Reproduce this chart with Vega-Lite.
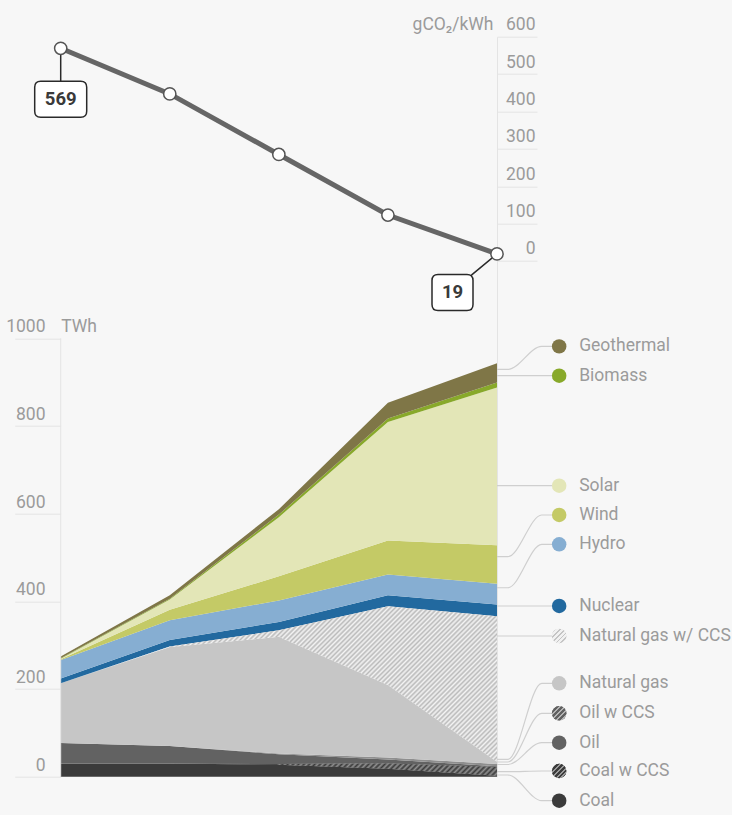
{
  "$schema": "https://vega.github.io/schema/vega-lite/v6.json",
  "width": 436.3,
  "height": 740,
  "autosize": {"type": "none"},
  "padding": {"left": 60.7, "top": 36.7, "right": 235, "bottom": 38.3},
  "background": "#f7f7f7",
  "config": {
    "view": {"stroke": null},
    "font": "Roboto",
    "text": {"font": "Roboto"}
  },
  "datasets": {
    "mix": [
      {"year": 2010, "Coal": 30, "Coal w CCS": 0, "Oil": 47, "Oil w CCS": 0, "Natural gas": 136, "Natural gas w/ CCS": 0, "Nuclear": 11, "Hydro": 42, "Wind": 2, "Solar": 1, "Biomass": 1, "Geothermal": 4},
      {"year": 2020, "Coal": 30, "Coal w CCS": 0, "Oil": 40, "Oil w CCS": 0, "Natural gas": 226, "Natural gas w/ CCS": 1, "Nuclear": 15, "Hydro": 45, "Wind": 24, "Solar": 23, "Biomass": 2, "Geothermal": 8},
      {"year": 2030, "Coal": 27, "Coal w CCS": 2, "Oil": 22, "Oil w CCS": 2, "Natural gas": 266, "Natural gas w/ CCS": 15, "Nuclear": 19, "Hydro": 49, "Wind": 55, "Solar": 135, "Biomass": 6, "Geothermal": 12},
      {"year": 2040, "Coal": 18, "Coal w CCS": 12, "Oil": 9, "Oil w CCS": 5, "Natural gas": 165, "Natural gas w/ CCS": 180, "Nuclear": 25, "Hydro": 47, "Wind": 78, "Solar": 270, "Biomass": 8, "Geothermal": 36},
      {"year": 2050, "Coal": 2, "Coal w CCS": 20, "Oil": 2, "Oil w CCS": 5, "Natural gas": 5, "Natural gas w/ CCS": 332, "Nuclear": 27, "Hydro": 47, "Wind": 88, "Solar": 360, "Biomass": 11, "Geothermal": 44}
    ],
    "co2": [
      {"year": 2010, "g": 569},
      {"year": 2020, "g": 447},
      {"year": 2030, "g": 285},
      {"year": 2040, "g": 123},
      {"year": 2050, "g": 19}
    ],
    "labels": [
      {"source": "Geothermal", "ly": 981.6, "ay": 929},
      {"source": "Biomass", "ly": 914.7, "ay": 914.7},
      {"source": "Solar", "ly": 663.8, "ay": 663.8},
      {"source": "Wind", "ly": 597, "ay": 502},
      {"source": "Hydro", "ly": 530, "ay": 431},
      {"source": "Nuclear", "ly": 389.4, "ay": 389.4},
      {"source": "Natural gas w/ CCS", "ly": 321, "ay": 321},
      {"source": "Natural gas", "ly": 213, "ay": 39.7},
      {"source": "Oil w CCS", "ly": 144.6, "ay": 33.5},
      {"source": "Oil", "ly": 77.6, "ay": 27.8},
      {"source": "Coal w CCS", "ly": 13, "ay": 11.4},
      {"source": "Coal", "ly": -54.7, "ay": 3.9}
    ]
  },
  "layer": [
    {
      "layer": [
        {
          "data": {"name": "mix"},
          "transform": [
            {"fold": ["Coal", "Coal w CCS", "Oil", "Oil w CCS", "Natural gas", "Natural gas w/ CCS", "Nuclear", "Hydro", "Wind", "Solar", "Biomass", "Geothermal"], "as": ["source", "twh"]},
            {"calculate": "indexof(['Coal','Coal w CCS','Oil','Oil w CCS','Natural gas','Natural gas w/ CCS','Nuclear','Hydro','Wind','Solar','Biomass','Geothermal'], datum.source)", "as": "rank"},
            {"stack": "twh", "groupby": ["year"], "sort": [{"field": "rank", "order": "ascending"}], "as": ["s0", "s1"]}
          ],
          "layer": [
            {
              "mark": {"type": "area", "interpolate": "linear"},
              "encoding": {
                "x": {
                  "field": "year", "type": "quantitative",
                  "scale": {"domain": [2010, 2050], "nice": false, "zero": false},
                  "axis": {
                    "orient": "bottom", "values": [2010, 2020, 2030, 2040, 2050], "format": "d",
                    "domain": false, "ticks": false, "grid": false, "labelFlush": true,
                    "labelBaseline": "alphabetic", "labelPadding": 33.3, "labelFontSize": 19,
                    "labelColor": "#9b9b9b", "title": null
                  }
                },
                "y": {
                  "field": "s1", "type": "quantitative", "stack": null,
                  "scale": {"domain": [0, 1688], "nice": false, "zero": false},
                  "axis": {
                    "orient": "left", "values": [0, 200, 400, 600, 800, 1000], "format": "d",
                    "domain": false, "grid": false, "ticks": true, "tickSize": 46,
                    "tickColor": "#e4e4e4", "tickWidth": 1,
                    "labelAlign": "right", "labelBaseline": "alphabetic", "labelPadding": -30.3,
                    "labelOffset": -6.5, "labelFontSize": 17.5, "labelColor": "#9b9b9b",
                    "title": "TWh", "titleAngle": 0, "titleAlign": "left", "titleBaseline": "alphabetic",
                    "titleX": 0, "titleY": 295, "titleFontSize": 17.5, "titleFontWeight": "normal",
                    "titleColor": "#9b9b9b"
                  }
                },
                "y2": {"field": "s0"},
                "color": {
                  "field": "source", "type": "nominal",
                  "scale": {
                    "domain": ["Coal", "Coal w CCS", "Oil", "Oil w CCS", "Natural gas", "Natural gas w/ CCS", "Nuclear", "Hydro", "Wind", "Solar", "Biomass", "Geothermal"],
                    "range": ["#3b3b3b", "#505050", "#626262", "#8e8e8e", "#c6c6c6", "#e2e2e2", "#22699f", "#86aed2", "#c4ca66", "#e3e6b7", "#88a92a", "#7f7647"]
                  },
                  "legend": null
                }
              }
            },
            {
              "transform": [{"filter": "datum.source == 'Natural gas w/ CCS'"}],
              "mark": {
                "type": "area", "interpolate": "linear",
                "fill": {
                  "gradient": "linear", "x1": 0, "y1": 0, "x2": 1.2036, "y2": 0.4292,
                  "stops": [
                    {"offset": 0.252, "color": "#f4f4f4"}, {"offset": 0.256, "color": "#bababa"},
                    {"offset": 0.26, "color": "#f4f4f4"}, {"offset": 0.264, "color": "#bababa"},
                    {"offset": 0.268, "color": "#f4f4f4"}, {"offset": 0.272, "color": "#bababa"},
                    {"offset": 0.276, "color": "#f4f4f4"}, {"offset": 0.28, "color": "#bababa"},
                    {"offset": 0.284, "color": "#f4f4f4"}, {"offset": 0.288, "color": "#bababa"},
                    {"offset": 0.292, "color": "#f4f4f4"}, {"offset": 0.296, "color": "#bababa"},
                    {"offset": 0.3, "color": "#f4f4f4"}, {"offset": 0.304, "color": "#bababa"},
                    {"offset": 0.308, "color": "#f4f4f4"}, {"offset": 0.312, "color": "#bababa"},
                    {"offset": 0.316, "color": "#f4f4f4"}, {"offset": 0.32, "color": "#bababa"},
                    {"offset": 0.324, "color": "#f4f4f4"}, {"offset": 0.328, "color": "#bababa"},
                    {"offset": 0.332, "color": "#f4f4f4"}, {"offset": 0.336, "color": "#bababa"},
                    {"offset": 0.34, "color": "#f4f4f4"}, {"offset": 0.344, "color": "#bababa"},
                    {"offset": 0.348, "color": "#f4f4f4"}, {"offset": 0.352, "color": "#bababa"},
                    {"offset": 0.356, "color": "#f4f4f4"}, {"offset": 0.36, "color": "#bababa"},
                    {"offset": 0.364, "color": "#f4f4f4"}, {"offset": 0.368, "color": "#bababa"},
                    {"offset": 0.372, "color": "#f4f4f4"}, {"offset": 0.376, "color": "#bababa"},
                    {"offset": 0.38, "color": "#f4f4f4"}, {"offset": 0.384, "color": "#bababa"},
                    {"offset": 0.388, "color": "#f4f4f4"}, {"offset": 0.392, "color": "#bababa"},
                    {"offset": 0.396, "color": "#f4f4f4"}, {"offset": 0.4, "color": "#bababa"},
                    {"offset": 0.404, "color": "#f4f4f4"}, {"offset": 0.408, "color": "#bababa"},
                    {"offset": 0.412, "color": "#f4f4f4"}, {"offset": 0.416, "color": "#bababa"},
                    {"offset": 0.42, "color": "#f4f4f4"}, {"offset": 0.424, "color": "#bababa"},
                    {"offset": 0.428, "color": "#f4f4f4"}, {"offset": 0.432, "color": "#bababa"},
                    {"offset": 0.436, "color": "#f4f4f4"}, {"offset": 0.44, "color": "#bababa"},
                    {"offset": 0.444, "color": "#f4f4f4"}, {"offset": 0.448, "color": "#bababa"},
                    {"offset": 0.452, "color": "#f4f4f4"}, {"offset": 0.456, "color": "#bababa"},
                    {"offset": 0.46, "color": "#f4f4f4"}, {"offset": 0.464, "color": "#bababa"},
                    {"offset": 0.468, "color": "#f4f4f4"}, {"offset": 0.472, "color": "#bababa"},
                    {"offset": 0.476, "color": "#f4f4f4"}, {"offset": 0.48, "color": "#bababa"},
                    {"offset": 0.484, "color": "#f4f4f4"}, {"offset": 0.488, "color": "#bababa"},
                    {"offset": 0.492, "color": "#f4f4f4"}, {"offset": 0.496, "color": "#bababa"},
                    {"offset": 0.5, "color": "#f4f4f4"}, {"offset": 0.504, "color": "#bababa"},
                    {"offset": 0.508, "color": "#f4f4f4"}, {"offset": 0.512, "color": "#bababa"},
                    {"offset": 0.516, "color": "#f4f4f4"}, {"offset": 0.52, "color": "#bababa"},
                    {"offset": 0.524, "color": "#f4f4f4"}, {"offset": 0.528, "color": "#bababa"},
                    {"offset": 0.532, "color": "#f4f4f4"}, {"offset": 0.536, "color": "#bababa"},
                    {"offset": 0.54, "color": "#f4f4f4"}, {"offset": 0.544, "color": "#bababa"},
                    {"offset": 0.548, "color": "#f4f4f4"}, {"offset": 0.552, "color": "#bababa"},
                    {"offset": 0.556, "color": "#f4f4f4"}, {"offset": 0.56, "color": "#bababa"},
                    {"offset": 0.564, "color": "#f4f4f4"}, {"offset": 0.568, "color": "#bababa"},
                    {"offset": 0.572, "color": "#f4f4f4"}, {"offset": 0.576, "color": "#bababa"},
                    {"offset": 0.58, "color": "#f4f4f4"}, {"offset": 0.584, "color": "#bababa"},
                    {"offset": 0.588, "color": "#f4f4f4"}, {"offset": 0.592, "color": "#bababa"},
                    {"offset": 0.596, "color": "#f4f4f4"}, {"offset": 0.6, "color": "#bababa"},
                    {"offset": 0.604, "color": "#f4f4f4"}, {"offset": 0.608, "color": "#bababa"},
                    {"offset": 0.612, "color": "#f4f4f4"}, {"offset": 0.616, "color": "#bababa"},
                    {"offset": 0.62, "color": "#f4f4f4"}, {"offset": 0.624, "color": "#bababa"},
                    {"offset": 0.628, "color": "#f4f4f4"}, {"offset": 0.632, "color": "#bababa"},
                    {"offset": 0.636, "color": "#f4f4f4"}, {"offset": 0.64, "color": "#bababa"},
                    {"offset": 0.644, "color": "#f4f4f4"}, {"offset": 0.648, "color": "#bababa"},
                    {"offset": 0.652, "color": "#f4f4f4"}, {"offset": 0.656, "color": "#bababa"},
                    {"offset": 0.66, "color": "#f4f4f4"}, {"offset": 0.664, "color": "#bababa"},
                    {"offset": 0.668, "color": "#f4f4f4"}, {"offset": 0.672, "color": "#bababa"},
                    {"offset": 0.676, "color": "#f4f4f4"}, {"offset": 0.68, "color": "#bababa"},
                    {"offset": 0.684, "color": "#f4f4f4"}, {"offset": 0.688, "color": "#bababa"},
                    {"offset": 0.692, "color": "#f4f4f4"}, {"offset": 0.696, "color": "#bababa"},
                    {"offset": 0.7, "color": "#f4f4f4"}, {"offset": 0.704, "color": "#bababa"},
                    {"offset": 0.708, "color": "#f4f4f4"}, {"offset": 0.712, "color": "#bababa"},
                    {"offset": 0.716, "color": "#f4f4f4"}, {"offset": 0.72, "color": "#bababa"},
                    {"offset": 0.724, "color": "#f4f4f4"}, {"offset": 0.728, "color": "#bababa"},
                    {"offset": 0.732, "color": "#f4f4f4"}, {"offset": 0.736, "color": "#bababa"},
                    {"offset": 0.74, "color": "#f4f4f4"}, {"offset": 0.744, "color": "#bababa"},
                    {"offset": 0.748, "color": "#f4f4f4"}, {"offset": 0.752, "color": "#bababa"},
                    {"offset": 0.756, "color": "#f4f4f4"}, {"offset": 0.76, "color": "#bababa"},
                    {"offset": 0.764, "color": "#f4f4f4"}, {"offset": 0.768, "color": "#bababa"},
                    {"offset": 0.772, "color": "#f4f4f4"}, {"offset": 0.776, "color": "#bababa"},
                    {"offset": 0.78, "color": "#f4f4f4"}, {"offset": 0.784, "color": "#bababa"},
                    {"offset": 0.788, "color": "#f4f4f4"}, {"offset": 0.792, "color": "#bababa"},
                    {"offset": 0.796, "color": "#f4f4f4"}, {"offset": 0.8, "color": "#bababa"},
                    {"offset": 0.804, "color": "#f4f4f4"}, {"offset": 0.808, "color": "#bababa"},
                    {"offset": 0.812, "color": "#f4f4f4"}, {"offset": 0.816, "color": "#bababa"},
                    {"offset": 0.82, "color": "#f4f4f4"}, {"offset": 0.824, "color": "#bababa"},
                    {"offset": 0.828, "color": "#f4f4f4"}, {"offset": 0.832, "color": "#bababa"},
                    {"offset": 0.836, "color": "#f4f4f4"}, {"offset": 0.84, "color": "#bababa"},
                    {"offset": 0.844, "color": "#f4f4f4"}, {"offset": 0.848, "color": "#bababa"},
                    {"offset": 0.852, "color": "#f4f4f4"}, {"offset": 0.856, "color": "#bababa"},
                    {"offset": 0.86, "color": "#f4f4f4"}, {"offset": 0.864, "color": "#bababa"},
                    {"offset": 0.868, "color": "#f4f4f4"}, {"offset": 0.872, "color": "#bababa"},
                    {"offset": 0.876, "color": "#f4f4f4"}, {"offset": 0.88, "color": "#bababa"},
                    {"offset": 0.884, "color": "#f4f4f4"}, {"offset": 0.888, "color": "#bababa"},
                    {"offset": 0.892, "color": "#f4f4f4"}, {"offset": 0.896, "color": "#bababa"},
                    {"offset": 0.9, "color": "#f4f4f4"}, {"offset": 0.904, "color": "#bababa"},
                    {"offset": 0.908, "color": "#f4f4f4"}, {"offset": 0.912, "color": "#bababa"},
                    {"offset": 0.916, "color": "#f4f4f4"}, {"offset": 0.92, "color": "#bababa"},
                    {"offset": 0.924, "color": "#f4f4f4"}, {"offset": 0.928, "color": "#bababa"},
                    {"offset": 0.932, "color": "#f4f4f4"}, {"offset": 0.936, "color": "#bababa"},
                    {"offset": 0.94, "color": "#f4f4f4"}, {"offset": 0.944, "color": "#bababa"},
                    {"offset": 0.948, "color": "#f4f4f4"}, {"offset": 0.952, "color": "#bababa"},
                    {"offset": 0.956, "color": "#f4f4f4"}, {"offset": 0.96, "color": "#bababa"},
                    {"offset": 0.964, "color": "#f4f4f4"}, {"offset": 0.968, "color": "#bababa"},
                    {"offset": 0.972, "color": "#f4f4f4"}, {"offset": 0.976, "color": "#bababa"},
                    {"offset": 0.98, "color": "#f4f4f4"}, {"offset": 0.984, "color": "#bababa"},
                    {"offset": 0.988, "color": "#f4f4f4"}, {"offset": 0.992, "color": "#bababa"},
                    {"offset": 0.996, "color": "#f4f4f4"}, {"offset": 1, "color": "#bababa"}
                  ]
                }
              },
              "encoding": {
                "x": {"field": "year", "type": "quantitative", "scale": {"domain": [2010, 2050], "nice": false, "zero": false}},
                "y": {"field": "s1", "type": "quantitative", "stack": null, "scale": {"domain": [0, 1688], "nice": false, "zero": false}},
                "y2": {"field": "s0"}
              }
            },
            {
              "transform": [{"filter": "datum.source == 'Coal w CCS'"}],
              "mark": {
                "type": "area", "interpolate": "linear",
                "fill": {
                  "gradient": "linear", "x1": 0, "y1": 0, "x2": 1.0273, "y2": 0.0289,
                  "stops": [
                    {"offset": 0.484, "color": "#3b3b3b"}, {"offset": 0.49, "color": "#8f8f8f"},
                    {"offset": 0.496, "color": "#3b3b3b"}, {"offset": 0.502, "color": "#8f8f8f"},
                    {"offset": 0.508, "color": "#3b3b3b"}, {"offset": 0.514, "color": "#8f8f8f"},
                    {"offset": 0.52, "color": "#3b3b3b"}, {"offset": 0.526, "color": "#8f8f8f"},
                    {"offset": 0.532, "color": "#3b3b3b"}, {"offset": 0.538, "color": "#8f8f8f"},
                    {"offset": 0.544, "color": "#3b3b3b"}, {"offset": 0.55, "color": "#8f8f8f"},
                    {"offset": 0.556, "color": "#3b3b3b"}, {"offset": 0.562, "color": "#8f8f8f"},
                    {"offset": 0.568, "color": "#3b3b3b"}, {"offset": 0.574, "color": "#8f8f8f"},
                    {"offset": 0.58, "color": "#3b3b3b"}, {"offset": 0.586, "color": "#8f8f8f"},
                    {"offset": 0.592, "color": "#3b3b3b"}, {"offset": 0.598, "color": "#8f8f8f"},
                    {"offset": 0.604, "color": "#3b3b3b"}, {"offset": 0.61, "color": "#8f8f8f"},
                    {"offset": 0.616, "color": "#3b3b3b"}, {"offset": 0.622, "color": "#8f8f8f"},
                    {"offset": 0.628, "color": "#3b3b3b"}, {"offset": 0.634, "color": "#8f8f8f"},
                    {"offset": 0.64, "color": "#3b3b3b"}, {"offset": 0.646, "color": "#8f8f8f"},
                    {"offset": 0.652, "color": "#3b3b3b"}, {"offset": 0.658, "color": "#8f8f8f"},
                    {"offset": 0.664, "color": "#3b3b3b"}, {"offset": 0.67, "color": "#8f8f8f"},
                    {"offset": 0.676, "color": "#3b3b3b"}, {"offset": 0.682, "color": "#8f8f8f"},
                    {"offset": 0.688, "color": "#3b3b3b"}, {"offset": 0.694, "color": "#8f8f8f"},
                    {"offset": 0.7, "color": "#3b3b3b"}, {"offset": 0.706, "color": "#8f8f8f"},
                    {"offset": 0.712, "color": "#3b3b3b"}, {"offset": 0.718, "color": "#8f8f8f"},
                    {"offset": 0.724, "color": "#3b3b3b"}, {"offset": 0.73, "color": "#8f8f8f"},
                    {"offset": 0.736, "color": "#3b3b3b"}, {"offset": 0.742, "color": "#8f8f8f"},
                    {"offset": 0.748, "color": "#3b3b3b"}, {"offset": 0.754, "color": "#8f8f8f"},
                    {"offset": 0.76, "color": "#3b3b3b"}, {"offset": 0.766, "color": "#8f8f8f"},
                    {"offset": 0.772, "color": "#3b3b3b"}, {"offset": 0.778, "color": "#8f8f8f"},
                    {"offset": 0.784, "color": "#3b3b3b"}, {"offset": 0.79, "color": "#8f8f8f"},
                    {"offset": 0.796, "color": "#3b3b3b"}, {"offset": 0.802, "color": "#8f8f8f"},
                    {"offset": 0.808, "color": "#3b3b3b"}, {"offset": 0.814, "color": "#8f8f8f"},
                    {"offset": 0.82, "color": "#3b3b3b"}, {"offset": 0.826, "color": "#8f8f8f"},
                    {"offset": 0.832, "color": "#3b3b3b"}, {"offset": 0.838, "color": "#8f8f8f"},
                    {"offset": 0.844, "color": "#3b3b3b"}, {"offset": 0.85, "color": "#8f8f8f"},
                    {"offset": 0.856, "color": "#3b3b3b"}, {"offset": 0.862, "color": "#8f8f8f"},
                    {"offset": 0.868, "color": "#3b3b3b"}, {"offset": 0.874, "color": "#8f8f8f"},
                    {"offset": 0.88, "color": "#3b3b3b"}, {"offset": 0.886, "color": "#8f8f8f"},
                    {"offset": 0.892, "color": "#3b3b3b"}, {"offset": 0.898, "color": "#8f8f8f"},
                    {"offset": 0.904, "color": "#3b3b3b"}, {"offset": 0.91, "color": "#8f8f8f"},
                    {"offset": 0.916, "color": "#3b3b3b"}, {"offset": 0.922, "color": "#8f8f8f"},
                    {"offset": 0.928, "color": "#3b3b3b"}, {"offset": 0.934, "color": "#8f8f8f"},
                    {"offset": 0.94, "color": "#3b3b3b"}, {"offset": 0.946, "color": "#8f8f8f"},
                    {"offset": 0.952, "color": "#3b3b3b"}, {"offset": 0.958, "color": "#8f8f8f"},
                    {"offset": 0.964, "color": "#3b3b3b"}, {"offset": 0.97, "color": "#8f8f8f"},
                    {"offset": 0.976, "color": "#3b3b3b"}, {"offset": 0.982, "color": "#8f8f8f"},
                    {"offset": 0.988, "color": "#3b3b3b"}, {"offset": 0.994, "color": "#8f8f8f"},
                    {"offset": 1, "color": "#3b3b3b"}
                  ]
                }
              },
              "encoding": {
                "x": {"field": "year", "type": "quantitative", "scale": {"domain": [2010, 2050], "nice": false, "zero": false}},
                "y": {"field": "s1", "type": "quantitative", "stack": null, "scale": {"domain": [0, 1688], "nice": false, "zero": false}},
                "y2": {"field": "s0"}
              }
            }
          ]
        },
        {
          "data": {"values": [{}]},
          "mark": {"type": "rule", "color": "#e4e4e4", "strokeWidth": 1},
          "encoding": {
            "x": {"datum": 2010, "type": "quantitative", "scale": {"domain": [2010, 2050], "nice": false, "zero": false}},
            "y": {"datum": 0, "type": "quantitative", "scale": {"domain": [0, 1688], "nice": false, "zero": false}},
            "y2": {"datum": 1000}
          }
        },
        {
          "data": {"name": "labels"},
          "transform": [
            {"calculate": "[[2050, datum.ay], [2051, datum.ay], [2054.1, datum.ly], [2055.7, datum.ly]]", "as": "pts"},
            {"flatten": ["pts"]},
            {"calculate": "datum.pts[0]", "as": "cx"},
            {"calculate": "datum.pts[1]", "as": "cy"}
          ],
          "mark": {"type": "line", "interpolate": "monotone", "color": "#cfcfcf", "strokeWidth": 1.2},
          "encoding": {
            "x": {"field": "cx", "type": "quantitative", "scale": {"domain": [2010, 2050], "nice": false, "zero": false}},
            "y": {"field": "cy", "type": "quantitative", "scale": {"domain": [0, 1688], "nice": false, "zero": false}},
            "detail": {"field": "source"}
          }
        },
        {
          "data": {"name": "labels"},
          "mark": {"type": "point", "shape": "circle", "filled": true, "size": 210, "opacity": 1},
          "encoding": {
            "x": {"datum": 2055.7, "type": "quantitative", "scale": {"domain": [2010, 2050], "nice": false, "zero": false}},
            "y": {"field": "ly", "type": "quantitative", "scale": {"domain": [0, 1688], "nice": false, "zero": false}},
            "color": {"field": "source", "type": "nominal", "legend": null}
          }
        },
        {
          "data": {"name": "labels"},
          "transform": [{"filter": "datum.source == 'Natural gas w/ CCS'"}],
          "mark": {
            "type": "point", "shape": "circle", "filled": true, "size": 210, "opacity": 1,
            "fill": {
              "gradient": "linear", "x1": 0, "y1": 0, "x2": 1, "y2": 1,
              "stops": [
                {"offset": 0, "color": "#f1f1f1"}, {"offset": 0.1, "color": "#f1f1f1"}, {"offset": 0.1, "color": "#c4c4c4"}, {"offset": 0.1667, "color": "#c4c4c4"},
                {"offset": 0.1667, "color": "#f1f1f1"}, {"offset": 0.2667, "color": "#f1f1f1"}, {"offset": 0.2667, "color": "#c4c4c4"}, {"offset": 0.3333, "color": "#c4c4c4"},
                {"offset": 0.3333, "color": "#f1f1f1"}, {"offset": 0.4333, "color": "#f1f1f1"}, {"offset": 0.4333, "color": "#c4c4c4"}, {"offset": 0.5, "color": "#c4c4c4"},
                {"offset": 0.5, "color": "#f1f1f1"}, {"offset": 0.6, "color": "#f1f1f1"}, {"offset": 0.6, "color": "#c4c4c4"}, {"offset": 0.6667, "color": "#c4c4c4"},
                {"offset": 0.6667, "color": "#f1f1f1"}, {"offset": 0.7667, "color": "#f1f1f1"}, {"offset": 0.7667, "color": "#c4c4c4"}, {"offset": 0.8333, "color": "#c4c4c4"},
                {"offset": 0.8333, "color": "#f1f1f1"}, {"offset": 0.9333, "color": "#f1f1f1"}, {"offset": 0.9333, "color": "#c4c4c4"}, {"offset": 1, "color": "#c4c4c4"}
              ]
            }
          },
          "encoding": {
            "x": {"datum": 2055.7, "type": "quantitative", "scale": {"domain": [2010, 2050], "nice": false, "zero": false}},
            "y": {"field": "ly", "type": "quantitative", "scale": {"domain": [0, 1688], "nice": false, "zero": false}}
          }
        },
        {
          "data": {"name": "labels"},
          "transform": [{"filter": "datum.source == 'Oil w CCS'"}],
          "mark": {
            "type": "point", "shape": "circle", "filled": true, "size": 210, "opacity": 1,
            "fill": {
              "gradient": "linear", "x1": 0, "y1": 0, "x2": 1, "y2": 1,
              "stops": [
                {"offset": 0, "color": "#606060"}, {"offset": 0.1, "color": "#606060"}, {"offset": 0.1, "color": "#b3b3b3"}, {"offset": 0.1667, "color": "#b3b3b3"},
                {"offset": 0.1667, "color": "#606060"}, {"offset": 0.2667, "color": "#606060"}, {"offset": 0.2667, "color": "#b3b3b3"}, {"offset": 0.3333, "color": "#b3b3b3"},
                {"offset": 0.3333, "color": "#606060"}, {"offset": 0.4333, "color": "#606060"}, {"offset": 0.4333, "color": "#b3b3b3"}, {"offset": 0.5, "color": "#b3b3b3"},
                {"offset": 0.5, "color": "#606060"}, {"offset": 0.6, "color": "#606060"}, {"offset": 0.6, "color": "#b3b3b3"}, {"offset": 0.6667, "color": "#b3b3b3"},
                {"offset": 0.6667, "color": "#606060"}, {"offset": 0.7667, "color": "#606060"}, {"offset": 0.7667, "color": "#b3b3b3"}, {"offset": 0.8333, "color": "#b3b3b3"},
                {"offset": 0.8333, "color": "#606060"}, {"offset": 0.9333, "color": "#606060"}, {"offset": 0.9333, "color": "#b3b3b3"}, {"offset": 1, "color": "#b3b3b3"}
              ]
            }
          },
          "encoding": {
            "x": {"datum": 2055.7, "type": "quantitative", "scale": {"domain": [2010, 2050], "nice": false, "zero": false}},
            "y": {"field": "ly", "type": "quantitative", "scale": {"domain": [0, 1688], "nice": false, "zero": false}}
          }
        },
        {
          "data": {"name": "labels"},
          "transform": [{"filter": "datum.source == 'Coal w CCS'"}],
          "mark": {
            "type": "point", "shape": "circle", "filled": true, "size": 210, "opacity": 1,
            "fill": {
              "gradient": "linear", "x1": 0, "y1": 0, "x2": 1, "y2": 1,
              "stops": [
                {"offset": 0, "color": "#3b3b3b"}, {"offset": 0.1, "color": "#3b3b3b"}, {"offset": 0.1, "color": "#9a9a9a"}, {"offset": 0.1667, "color": "#9a9a9a"},
                {"offset": 0.1667, "color": "#3b3b3b"}, {"offset": 0.2667, "color": "#3b3b3b"}, {"offset": 0.2667, "color": "#9a9a9a"}, {"offset": 0.3333, "color": "#9a9a9a"},
                {"offset": 0.3333, "color": "#3b3b3b"}, {"offset": 0.4333, "color": "#3b3b3b"}, {"offset": 0.4333, "color": "#9a9a9a"}, {"offset": 0.5, "color": "#9a9a9a"},
                {"offset": 0.5, "color": "#3b3b3b"}, {"offset": 0.6, "color": "#3b3b3b"}, {"offset": 0.6, "color": "#9a9a9a"}, {"offset": 0.6667, "color": "#9a9a9a"},
                {"offset": 0.6667, "color": "#3b3b3b"}, {"offset": 0.7667, "color": "#3b3b3b"}, {"offset": 0.7667, "color": "#9a9a9a"}, {"offset": 0.8333, "color": "#9a9a9a"},
                {"offset": 0.8333, "color": "#3b3b3b"}, {"offset": 0.9333, "color": "#3b3b3b"}, {"offset": 0.9333, "color": "#9a9a9a"}, {"offset": 1, "color": "#9a9a9a"}
              ]
            }
          },
          "encoding": {
            "x": {"datum": 2055.7, "type": "quantitative", "scale": {"domain": [2010, 2050], "nice": false, "zero": false}},
            "y": {"field": "ly", "type": "quantitative", "scale": {"domain": [0, 1688], "nice": false, "zero": false}}
          }
        },
        {
          "data": {"name": "labels"},
          "mark": {"type": "text", "align": "left", "baseline": "middle", "dx": 20, "fontSize": 17.5, "color": "#9b9b9b"},
          "encoding": {
            "x": {"datum": 2055.7, "type": "quantitative", "scale": {"domain": [2010, 2050], "nice": false, "zero": false}},
            "y": {"field": "ly", "type": "quantitative", "scale": {"domain": [0, 1688], "nice": false, "zero": false}},
            "text": {"field": "source"}
          }
        }
      ]
    },
    {
      "data": {"name": "co2"},
      "encoding": {
        "x": {"field": "year", "type": "quantitative", "scale": {"domain": [2010, 2050], "nice": false, "zero": false}, "axis": null},
        "y": {
          "field": "g", "type": "quantitative",
          "scale": {"domain": [-1379.5, 600], "nice": false, "zero": false},
          "axis": {
            "orient": "right", "values": [0, 100, 200, 300, 400, 500, 600],
            "domain": true, "domainColor": "#e4e4e4", "grid": false,
            "tickSize": 40, "tickColor": "#e4e4e4",
            "labelAlign": "right", "labelBaseline": "alphabetic", "labelPadding": -2, "labelOffset": -7,
            "labelFontSize": 17.5, "labelColor": "#9b9b9b",
            "title": "gCO₂/kWh", "titleAngle": 0, "titleAlign": "right", "titleBaseline": "alphabetic",
            "titleX": -4, "titleY": -7, "titleFontSize": 17.5, "titleFontWeight": "normal", "titleColor": "#9b9b9b"
          }
        }
      },
      "layer": [
        {"mark": {"type": "line", "color": "#666666", "strokeWidth": 5}},
        {
          "transform": [{"filter": "datum.year == 2010"}],
          "mark": {
            "type": "point", "filled": true, "fill": "white", "stroke": "#2a2a2a", "strokeWidth": 1.5, "opacity": 1, "size": 6400,
            "shape": "M -0.5 0.825 L 0.5 0.825 Q 0.65 0.825 0.65 0.975 L 0.65 1.575 Q 0.65 1.725 0.5 1.725 L -0.5 1.725 Q -0.65 1.725 -0.65 1.575 L -0.65 0.975 Q -0.65 0.825 -0.5 0.825 Z M 0 0 L 0 0.825"
          }
        },
        {
          "transform": [{"filter": "datum.year == 2050"}],
          "mark": {
            "type": "point", "filled": true, "fill": "white", "stroke": "#2a2a2a", "strokeWidth": 1.5, "opacity": 1, "size": 6400,
            "shape": "M -1.475 0.5125 L -0.75 0.5125 Q -0.6 0.5125 -0.6 0.6625 L -0.6 1.2625 Q -0.6 1.4125 -0.75 1.4125 L -1.475 1.4125 Q -1.625 1.4125 -1.625 1.2625 L -1.625 0.6625 Q -1.625 0.5125 -1.475 0.5125 Z M 0 0 L -0.64 0.53"
          }
        },
        {
          "mark": {"type": "point", "shape": "circle", "filled": true, "fill": "white", "stroke": "#555555", "strokeWidth": 1.5, "opacity": 1, "size": 150}
        },
        {
          "transform": [{"filter": "datum.year == 2010"}],
          "mark": {"type": "text", "dy": 51, "fontSize": 18.5, "fontWeight": "bold", "color": "#3a3a3a", "baseline": "middle", "align": "center"},
          "encoding": {"text": {"field": "g"}}
        },
        {
          "transform": [{"filter": "datum.year == 2050"}],
          "mark": {"type": "text", "dx": -44.5, "dy": 38.5, "fontSize": 18.5, "fontWeight": "bold", "color": "#3a3a3a", "baseline": "middle", "align": "center"},
          "encoding": {"text": {"field": "g"}}
        }
      ]
    }
  ],
  "resolve": {"scale": {"y": "independent"}}
}
